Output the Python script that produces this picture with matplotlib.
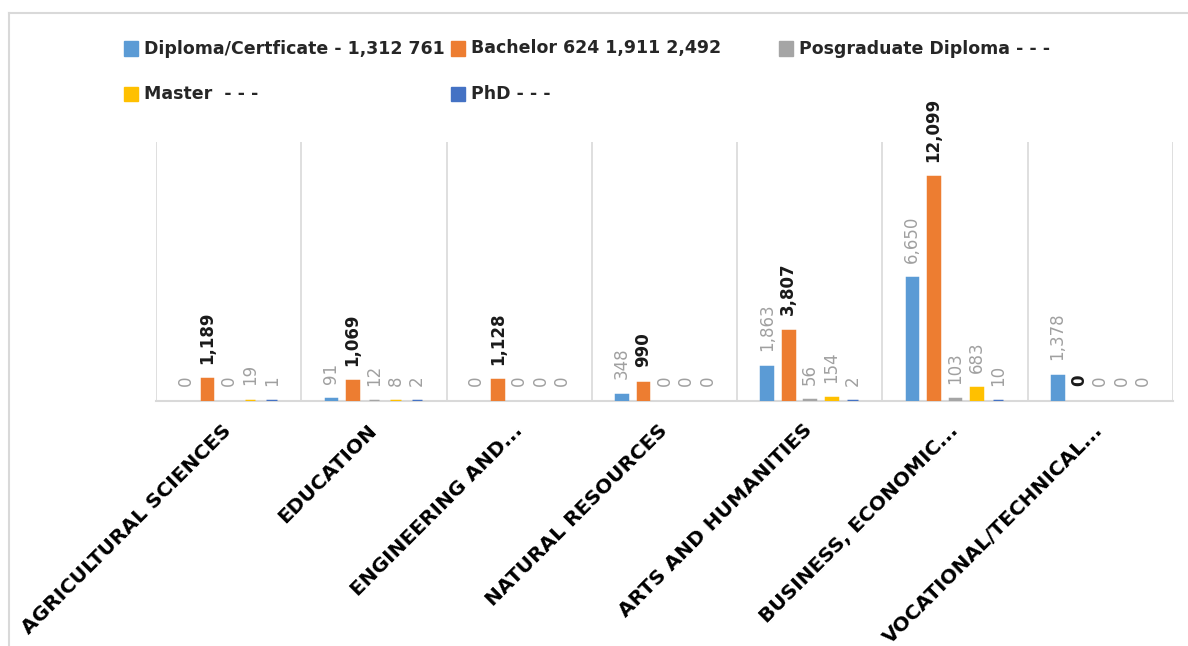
import matplotlib
matplotlib.use('Agg')
import matplotlib.pyplot as plt
from matplotlib.patches import Rectangle
from matplotlib.lines import Line2D
import numpy as np

categories = ["AGRICULTURAL SCIENCES", "EDUCATION", "ENGINEERING AND...",
              "NATURAL RESOURCES", "ARTS AND HUMANITIES",
              "BUSINESS, ECONOMIC...", "VOCATIONAL/TECHNICAL..."]
series_names = ["Diploma/Certficate - 1,312 761", "Bachelor 624 1,911 2,492",
                "Posgraduate Diploma - - -", "Master  - - -", "PhD - - -"]
diploma = [0, 91, 0, 348, 1863, 6650, 1378]
bachelor = [1189, 1069, 1128, 990, 3807, 12099, 0]
posgrad = [0, 12, 0, 0, 56, 103, 0]
master = [19, 8, 0, 0, 154, 683, 0]
phd = [1, 2, 0, 0, 2, 10, 0]

colors = ["#5B9BD5", "#ED7D31", "#A5A5A5", "#FFC000", "#4472C4"]
label_colors = ["#a0a0a0", "#1a1a1a", "#a0a0a0", "#a0a0a0", "#a0a0a0"]
label_weights = ["normal", "bold", "normal", "normal", "normal"]
all_series = [diploma, bachelor, posgrad, master, phd]

W, H = 1188, 646
fig = plt.figure(figsize=(W / 100, H / 100), dpi=100)
ax = fig.add_axes([156 / W, 1 - 401 / H, (1173 - 156) / W, (401 - 142) / H])

x = np.arange(len(categories))
spacing = 0.148
width = 0.073
for i, (vals, col) in enumerate(zip(all_series, colors)):
    offs = (i - 2) * spacing
    lws = [2.5 if v > 0 else 0.0 for v in vals]
    ax.bar(x + offs, vals, width, color=col, edgecolor=col, linewidth=lws, zorder=3)
    for xi, v in zip(x + offs, vals):
        ax.annotate(f"{v:,}", (xi, v), xytext=(0, 11), textcoords='offset points',
                    rotation=90, ha='center', va='bottom', fontsize=12,
                    family='DejaVu Sans', color=label_colors[i],
                    fontweight=label_weights[i])

ax.set_xlim(-0.5, len(categories) - 0.5)
ax.set_ylim(0, 14000)
ax.set_yticks([])
for s in ['top', 'right', 'left']:
    ax.spines[s].set_visible(False)
ax.spines['bottom'].set_color('#d9d9d9')
ax.spines['bottom'].set_linewidth(1.5)
ax.spines['bottom'].set_zorder(1)
ax.vlines(np.arange(-0.5, len(categories), 1), 0, 14000, color='#d9d9d9', lw=1.2, zorder=0)

ax.set_xticks(x)
ax.set_xticklabels(categories, rotation=45, ha='right', va='center',
                   rotation_mode='anchor', fontsize=14.5, fontweight='bold',
                   family='DejaVu Sans')
ax.tick_params(axis='x', length=0, pad=19)

# legend (manual, fixed column layout)
leg_pos = [(124, 48.5), (451, 48.5), (779, 48.5), (124, 94), (451, 94)]
sq = 14
for (px, py), name, col in zip(leg_pos, series_names, colors):
    fig.add_artist(Rectangle((px / W, 1 - (py + sq / 2) / H), sq / W, sq / H,
                             transform=fig.transFigure, color=col))
    fig.text((px + sq + 6) / W, 1 - py / H, name, ha='left', va='center',
             fontsize=12.5, family='DejaVu Sans', fontweight='bold', color='#262626')

# chart border
fig.add_artist(Line2D([8.5 / W, 8.5 / W], [0, 1 - 13 / H], color='#d9d9d9', lw=1.5,
                      transform=fig.transFigure))
fig.add_artist(Line2D([8.5 / W, 1], [1 - 13 / H, 1 - 13 / H], color='#d9d9d9', lw=1.5,
                      transform=fig.transFigure))

fig.savefig('out.png', dpi=100)
